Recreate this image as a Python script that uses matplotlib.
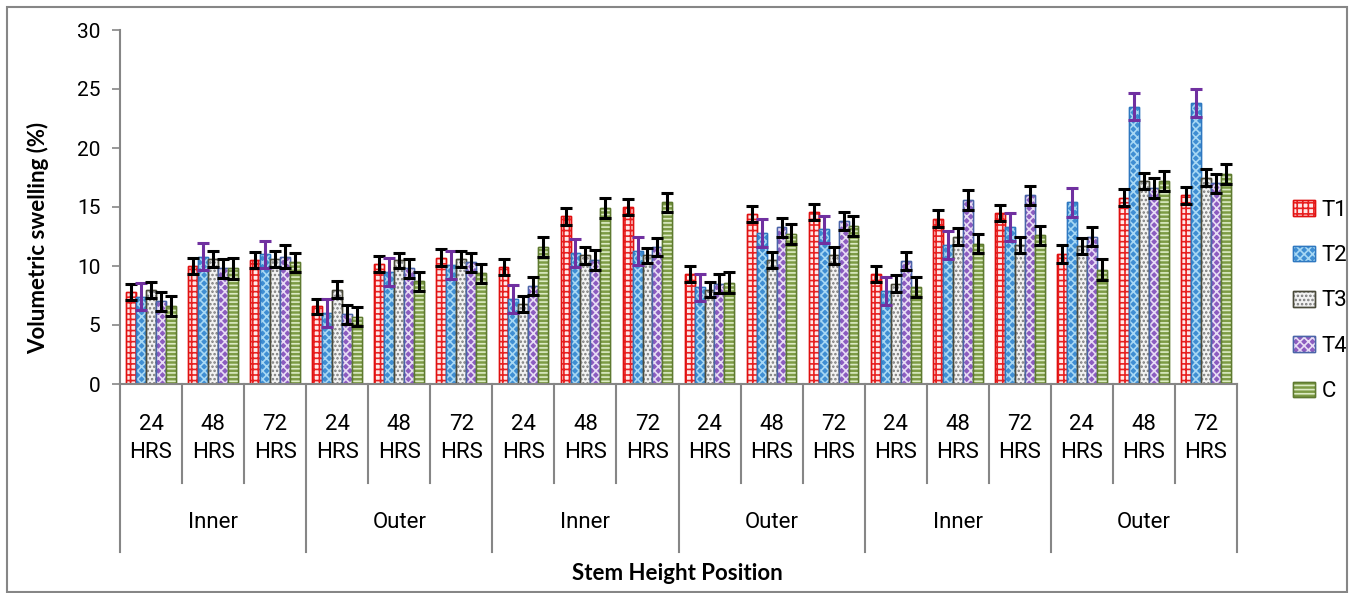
import matplotlib
matplotlib.use("Agg")
import matplotlib.pyplot as plt
import numpy as np
from matplotlib.patches import Rectangle, Patch
from matplotlib.transforms import blended_transform_factory

# ------- dados -------
horas = ["24", "48", "72"] * 6
posicoes = ["Inner", "Outer", "Inner", "Outer", "Inner", "Outer"]

t1 = [7.8, 10.0, 10.5, 6.6, 10.2, 10.7, 9.9, 14.2, 15.0, 9.3, 14.4, 14.6, 9.3, 14.0, 14.5, 11.0, 15.8, 16.0]
t2 = [7.4, 10.8, 11.0, 6.0, 9.5, 10.1, 7.2, 11.1, 11.3, 8.2, 12.8, 13.1, 7.9, 11.8, 13.3, 15.4, 23.5, 23.8]
t3 = [8.0, 10.6, 10.6, 8.0, 10.5, 10.6, 6.8, 10.9, 10.9, 8.0, 10.5, 10.9, 8.5, 12.5, 11.8, 11.7, 17.2, 17.5]
t4 = [7.0, 9.8, 10.8, 5.9, 9.8, 10.3, 8.3, 10.5, 11.6, 8.5, 13.3, 13.8, 10.4, 15.6, 16.0, 12.5, 16.6, 17.0]
c = [6.6, 9.8, 10.3, 5.7, 8.7, 9.4, 11.6, 14.9, 15.4, 8.6, 12.7, 13.4, 8.2, 11.9, 12.6, 9.7, 17.2, 17.8]

t1_err = [0.65, 0.72, 0.7, 0.64, 0.68, 0.7, 0.68, 0.72, 0.7, 0.68, 0.69, 0.69, 0.68, 0.71, 0.7, 0.74, 0.71, 0.71]
t2_err = [1.17, 1.16, 1.16, 1.17, 1.17, 1.2, 1.16, 1.2, 1.2, 1.16, 1.17, 1.14, 1.19, 1.17, 1.18, 1.21, 1.16, 1.17]
t3_err = [0.68, 0.65, 0.68, 0.7, 0.64, 0.68, 0.68, 0.69, 0.66, 0.66, 0.66, 0.69, 0.7, 0.69, 0.69, 0.67, 0.64, 0.7]
t4_err = [0.78, 0.8, 0.96, 0.78, 0.82, 0.8, 0.78, 0.82, 0.78, 0.78, 0.8, 0.78, 0.77, 0.83, 0.79, 0.81, 0.82, 0.79]
c_err = [0.85, 0.88, 0.79, 0.82, 0.82, 0.8, 0.82, 0.85, 0.82, 0.85, 0.85, 0.85, 0.86, 0.84, 0.83, 0.86, 0.86, 0.86]

series = ["T1", "T2", "T3", "T4", "C"]
valores = [t1, t2, t3, t4, c]
erros = [t1_err, t2_err, t3_err, t4_err, c_err]

# estilo de cada série: (fundo, borda, cor da hachura, hachura, cor do erro)
estilos = [
    ("#FFE8E8", "#E01010", "#E82020", "+++", "black"),
    ("#3F8ED3", "#2E78C0", "#A8D8F4", "xxxx", "#7030A0"),
    ("#F2F2F2", "#4A4A3A", "#7A7A7A", "....", "black"),
    ("#8C5CC0", "#4A64A8", "#E8DDF5", "xxxx", "black"),
    ("#7D9B45", "#5E7A30", "#DCEBC4", "----", "black"),
]

fonte_estreita = ["Roboto", "DejaVu Sans"]
fonte_negrito = ["Lato", "DejaVu Sans"]
cinza = "#868686"

plt.rcParams["hatch.linewidth"] = 1.2

fig = plt.figure(figsize=(13.51, 5.93), dpi=100)
fig.patch.set_facecolor("white")
ax = fig.add_axes([120 / 1351, 1 - 384 / 593, 1117 / 1351, 354 / 593])

n = len(horas)
x = np.arange(n) + 0.5
largura = 0.16

for i, (nome, vals, errs, est) in enumerate(zip(series, valores, erros, estilos)):
    fundo, borda, cor_hach, hach, cor_erro = est
    xs = x + (i - 2) * largura
    ax.bar(xs, vals, largura, facecolor=fundo, edgecolor=borda, linewidth=1.0, zorder=2)
    ax.bar(xs, vals, largura, fill=False, edgecolor=cor_hach, hatch=hach, linewidth=0, zorder=2)
    ax.bar(xs, vals, largura, fill=False, edgecolor=borda, linewidth=1.0, zorder=2)
    ax.errorbar(xs, vals, yerr=errs, fmt="none", ecolor=cor_erro,
                elinewidth=2.2, capsize=4.5, capthick=2.2, zorder=3)

ax.set_xlim(0, n)
ax.set_ylim(0, 30)
ax.set_yticks(range(0, 31, 5))
for lbl in ax.get_yticklabels():
    lbl.set_family(fonte_estreita)
    lbl.set_fontsize(15)
ax.tick_params(axis="y", direction="out", length=6, width=1.2, color=cinza, pad=8)
ax.set_xticks([])
for lado in ["top", "right"]:
    ax.spines[lado].set_visible(False)
for lado in ["left", "bottom"]:
    ax.spines[lado].set_color(cinza)
    ax.spines[lado].set_linewidth(1.5)

# ------- eixo x em dois níveis -------
trans = blended_transform_factory(ax.transData, ax.transAxes)
curta = -99 / 354
longa = -168 / 354
for k in range(n + 1):
    y_fim = longa if k % 3 == 0 else curta
    ax.plot([k, k], [0, y_fim], transform=trans, color=cinza, lw=1.5, clip_on=False)

for k, h in enumerate(horas):
    ax.text(k + 0.5, -41 / 354, h, transform=trans, ha="center", va="center",
            fontsize=16, family=fonte_estreita)
    ax.text(k + 0.5, -69 / 354, "HRS", transform=trans, ha="center", va="center",
            fontsize=16, family=fonte_estreita)

for g, p in enumerate(posicoes):
    ax.text(g * 3 + 1.5, -139 / 354, p, transform=trans, ha="center", va="center",
            fontsize=16, family=fonte_estreita)

fig.text(677 / 1351, 1 - 574 / 593, "Stem Height Position", ha="center", va="center",
         fontsize=16, fontweight="bold", family=fonte_negrito)
fig.text(38 / 1351, 1 - 238 / 593, "Volumetric swelling (%)", rotation=90,
         ha="center", va="center", fontsize=16, fontweight="bold", family=fonte_negrito)

# ------- legenda -------
handles = []
for est in estilos:
    fundo, borda, cor_hach, hach, _ = est
    handles.append((Patch(facecolor=fundo, edgecolor=borda, linewidth=1.0),
                    Patch(fill=False, edgecolor=cor_hach, hatch=hach, linewidth=0),
                    Patch(fill=False, edgecolor=borda, linewidth=1.0)))
leg = ax.legend(handles, series, loc="center left",
                bbox_to_anchor=((1293 - 120) / 1117, (384 - 301) / 354),
                frameon=False, borderpad=0, borderaxespad=0,
                handlelength=1.0, handleheight=0.7, handletextpad=0.3,
                labelspacing=1.1, prop={"family": fonte_estreita, "size": 16})

# borda da figura
fig.patches.append(Rectangle((7 / 1351, 1 / 593), 1340 / 1351, 585 / 593,
                             transform=fig.transFigure, fill=False,
                             edgecolor=cinza, linewidth=1.5))

fig.savefig("out.png", dpi=100, facecolor="white")
